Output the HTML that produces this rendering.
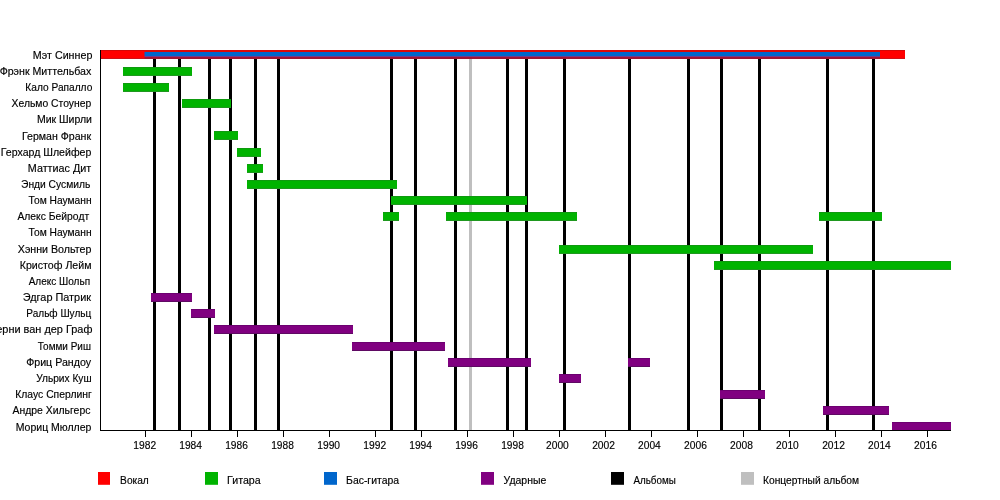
<!DOCTYPE html>
<html lang="ru">
<head>
<meta charset="utf-8">
<title>Sinner timeline</title>
<style>
html,body{margin:0;padding:0;background:#fff;}
body{width:1000px;height:500px;overflow:hidden;}
svg{display:block;}
text{font-family:"Liberation Sans",sans-serif;fill:#000;stroke:#000;stroke-width:0.15px;}
.lbl{font-size:10.5px;text-anchor:end;}
.ax{font-size:10.3px;text-anchor:middle;}
.lg{font-size:10px;}
</style>
</head>
<body>
<svg width="1000" height="500" viewBox="0 0 1000 500">
<rect x="0" y="0" width="1000" height="500" fill="#ffffff"/>
<defs>
<linearGradient id="gG" x1="0" y1="0" x2="0" y2="1"><stop offset="0" stop-color="#0f9a0f"/><stop offset="0.111" stop-color="#0f9a0f"/><stop offset="0.111" stop-color="#00b300"/><stop offset="0.889" stop-color="#00b300"/><stop offset="0.889" stop-color="#1f981f"/><stop offset="1" stop-color="#1f981f"/></linearGradient>
<linearGradient id="gP" x1="0" y1="0" x2="0" y2="1"><stop offset="0" stop-color="#6c0070"/><stop offset="0.111" stop-color="#6c0070"/><stop offset="0.111" stop-color="#800080"/><stop offset="0.889" stop-color="#800080"/><stop offset="0.889" stop-color="#5f0a63"/><stop offset="1" stop-color="#5f0a63"/></linearGradient>
<linearGradient id="gR" x1="0" y1="0" x2="0" y2="1"><stop offset="0" stop-color="#d40808"/><stop offset="0.111" stop-color="#d40808"/><stop offset="0.111" stop-color="#ff0000"/><stop offset="0.889" stop-color="#ff0000"/><stop offset="0.889" stop-color="#cf1018"/><stop offset="1" stop-color="#cf1018"/></linearGradient>
</defs>
<g id="album-lines">
<rect x="469" y="50" width="3" height="380" fill="#bfbfbf"/>
<rect x="153" y="50" width="3" height="380" fill="#000"/>
<rect x="178" y="50" width="3" height="380" fill="#000"/>
<rect x="208" y="50" width="3" height="380" fill="#000"/>
<rect x="229" y="50" width="3" height="380" fill="#000"/>
<rect x="254" y="50" width="3" height="380" fill="#000"/>
<rect x="277" y="50" width="3" height="380" fill="#000"/>
<rect x="390" y="50" width="3" height="380" fill="#000"/>
<rect x="414" y="50" width="3" height="380" fill="#000"/>
<rect x="454" y="50" width="3" height="380" fill="#000"/>
<rect x="506" y="50" width="3" height="380" fill="#000"/>
<rect x="525" y="50" width="3" height="380" fill="#000"/>
<rect x="563" y="50" width="3" height="380" fill="#000"/>
<rect x="628" y="50" width="3" height="380" fill="#000"/>
<rect x="687" y="50" width="3" height="380" fill="#000"/>
<rect x="720" y="50" width="3" height="380" fill="#000"/>
<rect x="758" y="50" width="3" height="380" fill="#000"/>
<rect x="826" y="50" width="3" height="380" fill="#000"/>
<rect x="872" y="50" width="3" height="380" fill="#000"/>
</g>
<g id="bars">
<rect x="100" y="50" width="805" height="9" fill="url(#gR)"/>
<rect x="144.5" y="50" width="735.5" height="2" fill="#dc0808"/>
<rect x="144.5" y="56" width="735.5" height="1.2" fill="#74388c"/>
<rect x="144.5" y="57" width="735.5" height="2" fill="#a21434"/>
<rect x="144.5" y="52" width="735.5" height="4" fill="#0066cc"/>
<rect x="123" y="67.00" width="69" height="9" fill="url(#gG)"/>
<rect x="123" y="83.00" width="46" height="9" fill="url(#gG)"/>
<rect x="182" y="99.00" width="49" height="9" fill="url(#gG)"/>
<rect x="214" y="131.00" width="24" height="9" fill="url(#gG)"/>
<rect x="237" y="148.00" width="24" height="9" fill="url(#gG)"/>
<rect x="247" y="164.00" width="16" height="9" fill="url(#gG)"/>
<rect x="247" y="180.00" width="150" height="9" fill="url(#gG)"/>
<rect x="391" y="196.00" width="136" height="9" fill="url(#gG)"/>
<rect x="383" y="212.00" width="16" height="9" fill="url(#gG)"/>
<rect x="446" y="212.00" width="131" height="9" fill="url(#gG)"/>
<rect x="819" y="212.00" width="63" height="9" fill="url(#gG)"/>
<rect x="559" y="245.00" width="254" height="9" fill="url(#gG)"/>
<rect x="714" y="261.00" width="237" height="9" fill="url(#gG)"/>
<rect x="151" y="293.00" width="41" height="9" fill="url(#gP)"/>
<rect x="191" y="309.00" width="24" height="9" fill="url(#gP)"/>
<rect x="214" y="325.00" width="139" height="9" fill="url(#gP)"/>
<rect x="352" y="342.00" width="93" height="9" fill="url(#gP)"/>
<rect x="448" y="358.00" width="83" height="9" fill="url(#gP)"/>
<rect x="628" y="358.00" width="22" height="9" fill="url(#gP)"/>
<rect x="559" y="374.00" width="22" height="9" fill="url(#gP)"/>
<rect x="720" y="390.00" width="45" height="9" fill="url(#gP)"/>
<rect x="823" y="406.00" width="66" height="9" fill="url(#gP)"/>
<rect x="892" y="422.00" width="59" height="9" fill="url(#gP)"/>
</g>
<g id="axes">
<rect x="100" y="50" width="1" height="381" fill="#000"/>
<rect x="100" y="430" width="851" height="1" fill="#000"/>
<rect x="145" y="430" width="1" height="7" fill="#000"/>
<text class="ax" id="ax1982" x="144.69" y="449" textLength="22.83" lengthAdjust="spacingAndGlyphs">1982</text>
<rect x="191" y="430" width="1" height="7" fill="#000"/>
<text class="ax" id="ax1984" x="190.63" y="449" textLength="22.78" lengthAdjust="spacingAndGlyphs">1984</text>
<rect x="237" y="430" width="1" height="7" fill="#000"/>
<text class="ax" id="ax1986" x="236.53" y="449" textLength="22.69" lengthAdjust="spacingAndGlyphs">1986</text>
<rect x="283" y="430" width="1" height="7" fill="#000"/>
<text class="ax" id="ax1988" x="282.54" y="449" textLength="22.68" lengthAdjust="spacingAndGlyphs">1988</text>
<rect x="329" y="430" width="1" height="7" fill="#000"/>
<text class="ax" id="ax1990" x="328.66" y="449" textLength="22.82" lengthAdjust="spacingAndGlyphs">1990</text>
<rect x="375" y="430" width="1" height="7" fill="#000"/>
<text class="ax" id="ax1992" x="374.69" y="449" textLength="22.83" lengthAdjust="spacingAndGlyphs">1992</text>
<rect x="421" y="430" width="1" height="7" fill="#000"/>
<text class="ax" id="ax1994" x="420.63" y="449" textLength="22.78" lengthAdjust="spacingAndGlyphs">1994</text>
<rect x="467" y="430" width="1" height="7" fill="#000"/>
<text class="ax" id="ax1996" x="466.53" y="449" textLength="22.69" lengthAdjust="spacingAndGlyphs">1996</text>
<rect x="513" y="430" width="1" height="7" fill="#000"/>
<text class="ax" id="ax1998" x="512.54" y="449" textLength="22.68" lengthAdjust="spacingAndGlyphs">1998</text>
<rect x="559" y="430" width="1" height="7" fill="#000"/>
<text class="ax" id="ax2000" x="557.43" y="449" textLength="22.72" lengthAdjust="spacingAndGlyphs">2000</text>
<rect x="605" y="430" width="1" height="7" fill="#000"/>
<text class="ax" id="ax2002" x="603.59" y="449" textLength="22.88" lengthAdjust="spacingAndGlyphs">2002</text>
<rect x="651" y="430" width="1" height="7" fill="#000"/>
<text class="ax" id="ax2004" x="649.39" y="449" textLength="22.68" lengthAdjust="spacingAndGlyphs">2004</text>
<rect x="697" y="430" width="1" height="7" fill="#000"/>
<text class="ax" id="ax2006" x="695.53" y="449" textLength="22.84" lengthAdjust="spacingAndGlyphs">2006</text>
<rect x="743" y="430" width="1" height="7" fill="#000"/>
<text class="ax" id="ax2008" x="741.52" y="449" textLength="22.83" lengthAdjust="spacingAndGlyphs">2008</text>
<rect x="789" y="430" width="1" height="7" fill="#000"/>
<text class="ax" id="ax2010" x="787.43" y="449" textLength="22.72" lengthAdjust="spacingAndGlyphs">2010</text>
<rect x="835" y="430" width="1" height="7" fill="#000"/>
<text class="ax" id="ax2012" x="833.59" y="449" textLength="22.88" lengthAdjust="spacingAndGlyphs">2012</text>
<rect x="881" y="430" width="1" height="7" fill="#000"/>
<text class="ax" id="ax2014" x="879.39" y="449" textLength="22.68" lengthAdjust="spacingAndGlyphs">2014</text>
<rect x="927" y="430" width="1" height="7" fill="#000"/>
<text class="ax" id="ax2016" x="925.53" y="449" textLength="22.84" lengthAdjust="spacingAndGlyphs">2016</text>
</g>
<g id="labels">
<text class="lbl" id="lbl0" x="92.34" y="59.40" textLength="59.54" lengthAdjust="spacingAndGlyphs">Мэт Синнер</text>
<text class="lbl" id="lbl1" x="91.26" y="74.91" textLength="91.65" lengthAdjust="spacingAndGlyphs">Фрэнк Миттельбах</text>
<text class="lbl" id="lbl2" x="92.31" y="91.06" textLength="66.95" lengthAdjust="spacingAndGlyphs">Кало Рапалло</text>
<text class="lbl" id="lbl3" x="91.20" y="107.22" textLength="79.60" lengthAdjust="spacingAndGlyphs">Хельмо Стоунер</text>
<text class="lbl" id="lbl4" x="91.93" y="123.37" textLength="54.99" lengthAdjust="spacingAndGlyphs">Мик Ширли</text>
<text class="lbl" id="lbl5" x="91.09" y="139.53" textLength="69.08" lengthAdjust="spacingAndGlyphs">Герман Франк</text>
<text class="lbl" id="lbl6" x="91.32" y="155.68" textLength="90.46" lengthAdjust="spacingAndGlyphs">Герхард Шлейфер</text>
<text class="lbl" id="lbl7" x="91.19" y="171.84" textLength="63.34" lengthAdjust="spacingAndGlyphs">Маттиас Дит</text>
<text class="lbl" id="lbl8" x="90.30" y="187.99" textLength="69.27" lengthAdjust="spacingAndGlyphs">Энди Сусмиль</text>
<text class="lbl" id="lbl9" x="91.57" y="204.15" textLength="63.06" lengthAdjust="spacingAndGlyphs">Том Науманн</text>
<text class="lbl" id="lbl10" x="89.16" y="220.30" textLength="71.72" lengthAdjust="spacingAndGlyphs">Алекс Бейродт</text>
<text class="lbl" id="lbl11" x="91.57" y="236.46" textLength="63.06" lengthAdjust="spacingAndGlyphs">Том Науманн</text>
<text class="lbl" id="lbl12" x="91.36" y="252.61" textLength="73.56" lengthAdjust="spacingAndGlyphs">Хэнни Вольтер</text>
<text class="lbl" id="lbl13" x="91.50" y="268.76" textLength="71.71" lengthAdjust="spacingAndGlyphs">Кристоф Лейм</text>
<text class="lbl" id="lbl14" x="90.09" y="284.92" textLength="61.43" lengthAdjust="spacingAndGlyphs">Алекс Шольп</text>
<text class="lbl" id="lbl15" x="91.00" y="301.08" textLength="68.19" lengthAdjust="spacingAndGlyphs">Эдгар Патрик</text>
<text class="lbl" id="lbl16" x="91.25" y="317.23" textLength="64.92" lengthAdjust="spacingAndGlyphs">Ральф Шульц</text>
<text class="lbl" id="lbl17" x="92.37" y="333.38" textLength="103.28" lengthAdjust="spacingAndGlyphs">Берни ван дер Граф</text>
<text class="lbl" id="lbl18" x="90.89" y="349.54" textLength="53.10" lengthAdjust="spacingAndGlyphs">Томми Риш</text>
<text class="lbl" id="lbl19" x="91.00" y="365.70" textLength="64.81" lengthAdjust="spacingAndGlyphs">Фриц Рандоу</text>
<text class="lbl" id="lbl20" x="91.54" y="381.85" textLength="55.26" lengthAdjust="spacingAndGlyphs">Ульрих Куш</text>
<text class="lbl" id="lbl21" x="91.74" y="398.00" textLength="76.45" lengthAdjust="spacingAndGlyphs">Клаус Сперлинг</text>
<text class="lbl" id="lbl22" x="90.40" y="414.16" textLength="77.91" lengthAdjust="spacingAndGlyphs">Андре Хильгерс</text>
<text class="lbl" id="lbl23" x="91.37" y="430.80" textLength="75.60" lengthAdjust="spacingAndGlyphs">Мориц Мюллер</text>
</g>
<g id="legend">
<rect x="98" y="472" width="12" height="12.8" fill="#ff0000"/>
<text class="lg" id="lg0" x="120.12" y="483.7" textLength="28.69" lengthAdjust="spacingAndGlyphs">Вокал</text>
<rect x="205" y="472" width="13" height="12.8" fill="#00b300"/>
<text class="lg" id="lg1" x="227.08" y="483.7" textLength="33.64" lengthAdjust="spacingAndGlyphs">Гитара</text>
<rect x="324" y="472" width="13" height="12.8" fill="#0066cc"/>
<text class="lg" id="lg2" x="346.04" y="483.7" textLength="53.03" lengthAdjust="spacingAndGlyphs">Бас-гитара</text>
<rect x="481" y="472" width="13" height="12.8" fill="#800080"/>
<text class="lg" id="lg3" x="503.58" y="483.7" textLength="42.69" lengthAdjust="spacingAndGlyphs">Ударные</text>
<rect x="611" y="472" width="13" height="12.8" fill="#000"/>
<text class="lg" id="lg4" x="633.43" y="483.7" textLength="42.31" lengthAdjust="spacingAndGlyphs">Альбомы</text>
<rect x="741" y="472" width="13" height="12.8" fill="#bfbfbf"/>
<text class="lg" id="lg5" x="763.04" y="483.7" textLength="96.05" lengthAdjust="spacingAndGlyphs">Концертный альбом</text>
</g>
</svg>
</body>
</html>
